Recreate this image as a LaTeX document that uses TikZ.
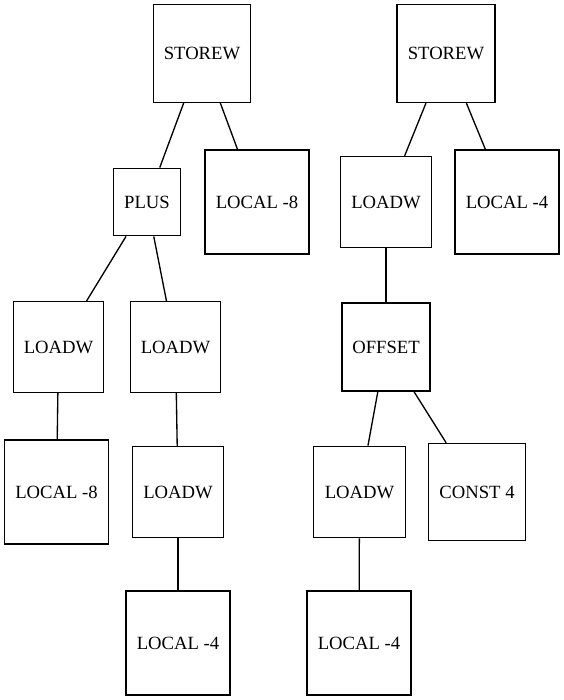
\documentclass[tikz,border=0pt]{standalone}
\usepackage{fontspec}
\setmainfont{Liberation Serif}
\begin{document}
\begin{tikzpicture}[x=0.75pt, y=-0.75pt, line width=1pt,
    tnode/.style={draw, inner sep=0pt, font=\fontsize{14}{16}\selectfont,
        minimum width=#1*0.75pt, minimum height=#1*0.75pt}]
            \useasboundingbox (0, 0) rectangle (564, 700);
            % left tree
            \node[tnode=97.5](storeA) at (202, 53.5) {STOREW};
            \node[tnode=67.5](plus) at (147, 202) {PLUS};
            \node[tnode=104](localA) at (257, 202) {LOCAL -8};
            \node[tnode=90.5](loadA) at (58.5, 347) {LOADW};
            \node[tnode=90.5](loadB) at (175.5, 347) {LOADW};
            \node[tnode=104](localB) at (56.5, 492) {LOCAL -8};
            \node[tnode=91](loadC) at (178, 492) {LOADW};
            \node[tnode=104](localC) at (178, 643) {LOCAL -4};
            \draw (storeA)--(plus);
            \draw (storeA)--(localA);
            \draw (plus)--(loadA);
            \draw (plus)--(loadB);
            \draw (loadA)--(localB);
            \draw (loadB)--(loadC);
            \draw (loadC)--(localC);
            % right tree
            \node[tnode=98](storeB) at (446, 53.5) {STOREW};
            \node[tnode=91](loadD) at (386, 202) {LOADW};
            \node[tnode=104](localD) at (507, 202) {LOCAL -4};
            \node[tnode=88](offset) at (386, 347) {OFFSET};
            \node[tnode=91.5](loadE) at (359.5, 492) {LOADW};
            \node[tnode=97](const) at (477, 492) {CONST 4};
            \node[tnode=104](localE) at (359, 643) {LOCAL -4};
            \draw (storeB)--(loadD);
            \draw (storeB)--(localD);
            \draw (loadD)--(offset);
            \draw (offset)--(loadE);
            \draw (offset)--(const);
            \draw (loadE)--(localE);
        \end{tikzpicture}
\end{document}
